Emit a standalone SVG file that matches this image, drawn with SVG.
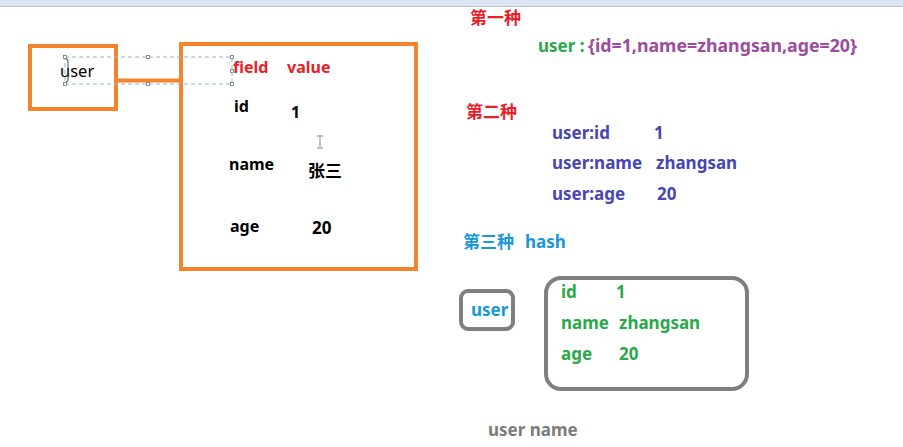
<svg xmlns="http://www.w3.org/2000/svg" width="903" height="447" viewBox="0 0 903 447">
<style>
text{font-family:"Noto Sans","Noto Sans CJK SC",sans-serif;font-size:17px;font-weight:bold}
.red{fill:#e6212a}
.blk{fill:#000}
.grn{fill:#2aa84a}
.pur{fill:#9b4c9d}
.blu{fill:#4646b4}
.cyn{fill:#1798d8}
.gry{fill:#7b7b7b}
.ob{fill:none;stroke:#f5832b;stroke-width:4}
.gb{fill:none;stroke:#7f7f7f;stroke-width:4}
.hd{fill:#fff;stroke:#777;stroke-width:0.8}
</style>
<rect x="0" y="0" width="903" height="447" fill="#fff"/>
<rect x="0" y="0" width="903" height="6" fill="#dce6f3"/>
<line x1="0" y1="6.5" x2="903" y2="6.5" stroke="#b9c4d2" stroke-width="1"/>

<g id="connectors">
<line x1="116" y1="80.5" x2="182" y2="80.5" class="ob"/>
</g>

<g id="user-box">
<rect x="30" y="46" width="86" height="63" class="ob"/>
<text x="60" y="77" class="blk" style="font-weight:normal;font-size:16.5px">user</text>
</g>

<g id="hash-table">
<rect x="181" y="44" width="235" height="225" class="ob"/>
<text x="233" y="73" class="red" style="font-size:16px">field</text>
<text x="287" y="73" class="red" style="font-size:16px">value</text>
<text x="234" y="112" class="blk" style="font-size:16px">id</text>
<text x="291" y="118" class="blk" style="font-size:16px">1</text>
<text x="229" y="170" class="blk" style="font-size:16px">name</text>
<text x="308" y="177" class="blk">张三</text>
<text x="230" y="232" class="blk" style="font-size:16px">age</text>
<text x="312" y="234" class="blk">20</text>
</g>

<g id="selection">
<rect x="65" y="57" width="167" height="27" fill="none" stroke="#8fb4e0" stroke-width="1" stroke-dasharray="4,3"/>
<rect x="63.5" y="55.5" width="3" height="3" class="hd"/>
<rect x="146.5" y="55.5" width="3" height="3" class="hd"/>
<rect x="230.5" y="55.5" width="3" height="3" class="hd"/>
<rect x="230.5" y="69.5" width="3" height="3" class="hd"/>
<rect x="63.5" y="82.5" width="3" height="3" class="hd"/>
<rect x="146.5" y="82.5" width="3" height="3" class="hd"/>
<rect x="230.5" y="82.5" width="3" height="3" class="hd"/>
<path d="M66 59 Q68 59 68 61 L68 80 Q68 82 66 82" fill="none" stroke="#444" stroke-width="1"/>
<path d="M317 136 H323 M320 136 V148 M317 148 H323" fill="none" stroke="#888" stroke-width="1"/>
</g>

<g id="method1">
<text x="470" y="24" class="red">第一种</text>
<text x="538" y="52" class="grn">user :</text>
<text x="588" y="52" class="pur" textLength="269" lengthAdjust="spacingAndGlyphs">{id=1,name=zhangsan,age=20}</text>
</g>

<g id="method2">
<text x="466" y="118" class="red">第二种</text>
<text x="552" y="139" class="blu">user:id</text>
<text x="654" y="139" class="blu">1</text>
<text x="552" y="169" class="blu">user:name</text>
<text x="656" y="169" class="blu">zhangsan</text>
<text x="552" y="200" class="blu">user:age</text>
<text x="657" y="200" class="blu">20</text>
</g>

<g id="method3">
<text x="463" y="248" class="cyn">第三种</text>
<text x="525" y="248" class="cyn">hash</text>
</g>

<g id="hash-key">
<rect x="461" y="291" width="52" height="38" rx="7" class="gb"/>
<text x="471" y="316" class="cyn">user</text>
</g>

<g id="hash-fields">
<rect x="546" y="278" width="201" height="111" rx="15" class="gb"/>
<text x="561" y="298" class="grn">id</text>
<text x="616" y="298" class="grn">1</text>
<text x="561" y="329" class="grn">name</text>
<text x="619" y="329" class="grn">zhangsan</text>
<text x="561" y="360" class="grn">age</text>
<text x="619" y="360" class="grn">20</text>
</g>

<g id="footer">
<text x="488" y="436" class="gry">user name</text>
</g>
</svg>
